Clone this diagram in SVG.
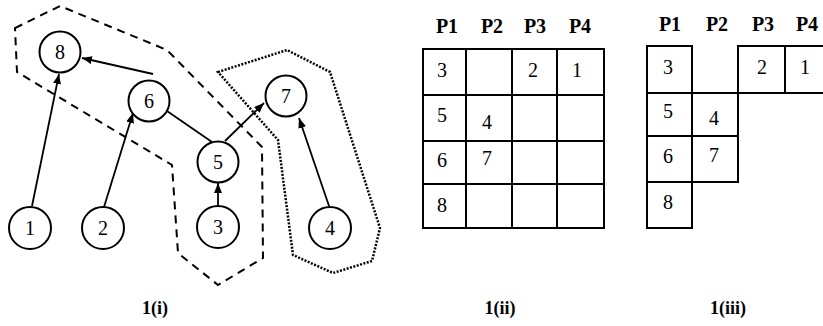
<svg xmlns="http://www.w3.org/2000/svg" width="823" height="326" viewBox="0 0 823 326">
<defs>
<marker id="ah" viewBox="0 0 10 8" refX="10" refY="4" markerWidth="10" markerHeight="8" markerUnits="userSpaceOnUse" orient="auto">
<path d="M0,0 L10,4 L0,8 Z" fill="#000"/>
</marker>
</defs>
<style>
.n circle{fill:#fff;stroke:#000;stroke-width:2}
.n text,.t{font-size:20px;text-anchor:middle;fill:#000}
.h{font-size:20px;font-weight:bold;text-anchor:middle;fill:#000}
.lbl{font-size:18px;font-weight:bold;text-anchor:middle;fill:#000}
.e{stroke:#000;stroke-width:1.8;fill:none}
.a{marker-end:url(#ah)}
.dash{fill:none;stroke:#000;stroke-width:2;stroke-dasharray:8,6}
.dot{fill:none;stroke:#000;stroke-width:2.5;stroke-dasharray:2,1.5}
.g{fill:none;stroke:#000;stroke-width:2}
</style>
<rect width="823" height="326" fill="#fff"/>
<g font-family="Liberation Serif, DejaVu Serif, Times New Roman, serif">
<g id="clusters">
<polygon class="dash" points="15,28 60,6 167,50 262,147 263,258 218,285 178,253 172,165 17,72"/>
<polygon class="dot" points="218,72 287,50 330,72 380,228 372,261 333,273 293,255 278,140"/>
</g>
<g id="connectors">
<line class="e a" x1="32" y1="206" x2="59" y2="74"/>
<line class="e a" x1="104" y1="207" x2="133" y2="113"/>
<line class="e a" x1="153" y1="74" x2="82" y2="58"/>
<line class="e" x1="167" y1="111" x2="212" y2="142"/>
<line class="e a" x1="225" y1="141" x2="264" y2="103"/>
<line class="e a" x1="218" y1="207" x2="218" y2="183"/>
<line class="e a" x1="329" y1="206" x2="299" y2="118"/>
</g>
<g id="n8" class="n"><circle cx="60" cy="52" r="20.5"/><text x="60" y="59">8</text></g>
<g id="n6" class="n"><circle cx="149" cy="101" r="20.5"/><text x="149" y="108">6</text></g>
<g id="n7" class="n"><circle cx="286" cy="96" r="20.5"/><text x="286" y="103">7</text></g>
<g id="n5" class="n"><circle cx="218" cy="162" r="20.5"/><text x="218" y="169">5</text></g>
<g id="n1" class="n"><circle cx="30" cy="228" r="21"/><text x="30" y="235">1</text></g>
<g id="n2" class="n"><circle cx="103" cy="228" r="21"/><text x="103" y="235">2</text></g>
<g id="n3" class="n"><circle cx="218" cy="227" r="21"/><text x="218" y="234">3</text></g>
<g id="n4" class="n"><circle cx="330" cy="228" r="21"/><text x="330" y="235">4</text></g>
<text class="lbl" x="155" y="314">1(i)</text>
<g id="table2">
<text class="h" x="447" y="33">P1</text>
<text class="h" x="492" y="33">P2</text>
<text class="h" x="535" y="33">P3</text>
<text class="h" x="580" y="33">P4</text>
<rect class="g" x="423" y="49" width="181" height="179"/>
<path class="g" d="M466,49V228M512,49V228M557,49V228M423,95H604M423,141H604M423,184H604"/>
<text class="t" x="442" y="77">3</text>
<text class="t" x="533" y="77">2</text>
<text class="t" x="577" y="77">1</text>
<text class="t" x="442" y="122">5</text>
<text class="t" x="487" y="129">4</text>
<text class="t" x="442" y="167">6</text>
<text class="t" x="487" y="165">7</text>
<text class="t" x="442" y="212">8</text>
<text class="lbl" x="500" y="314">1(ii)</text>
</g>
<g id="table3">
<text class="h" x="670" y="31">P1</text>
<text class="h" x="717" y="31">P2</text>
<text class="h" x="763" y="31">P3</text>
<text class="h" x="807" y="31">P4</text>
<path class="g" d="M647,46H692V228H647ZM647,93H692M647,136H692M647,182H692"/>
<path class="g" d="M692,93H738V182H692M692,136H738"/>
<path class="g" d="M738,93V46H823M738,93H823M785,46V93"/>
<text class="t" x="668" y="74">3</text>
<text class="t" x="762" y="74">2</text>
<text class="t" x="805" y="74">1</text>
<text class="t" x="668" y="118">5</text>
<text class="t" x="714" y="125">4</text>
<text class="t" x="668" y="163">6</text>
<text class="t" x="714" y="162">7</text>
<text class="t" x="668" y="209">8</text>
<text class="lbl" x="728" y="314">1(iii)</text>
</g>
</g>
</svg>
